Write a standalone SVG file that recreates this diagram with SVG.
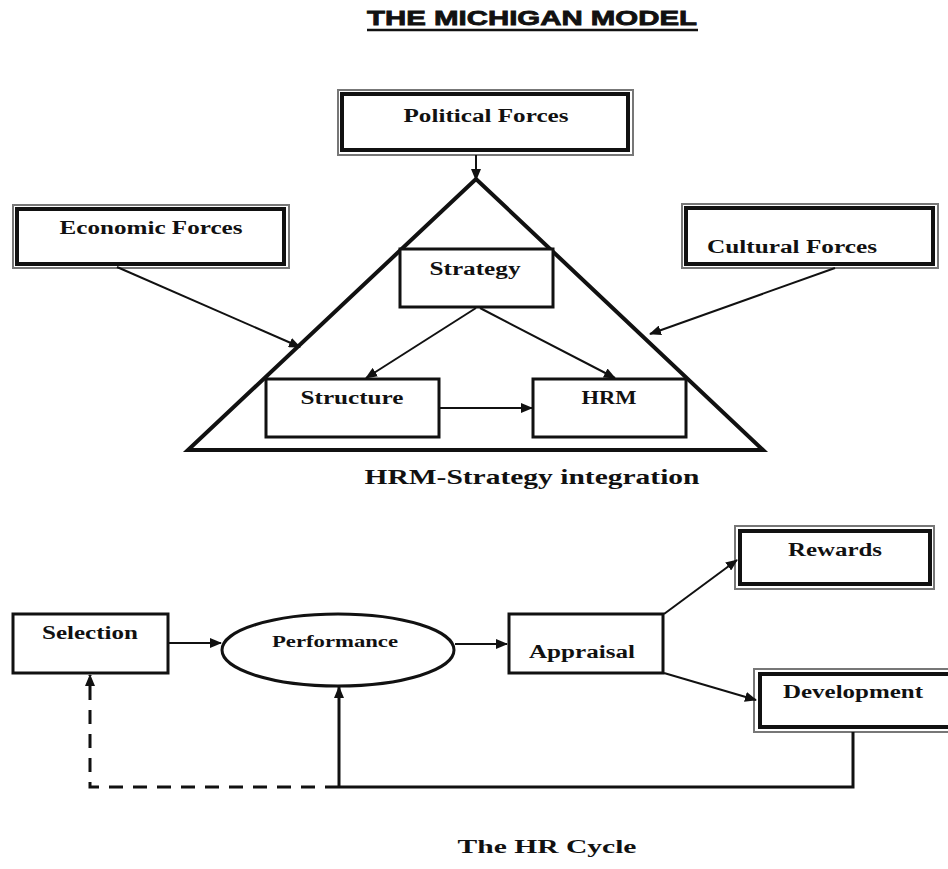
<svg xmlns="http://www.w3.org/2000/svg" width="948" height="869" viewBox="0 0 948 869">
<style>
  .t{font-family:"Liberation Serif","Times New Roman",serif;font-weight:bold;fill:#111;}
  .box{fill:#fff;stroke:#111;stroke-width:3;}
  .outer{fill:#fff;stroke:#777;stroke-width:2;}
  .inner{fill:#fff;stroke:#111;stroke-width:4;}
  .ln{fill:none;stroke:#111;stroke-width:2;}
  .thick{fill:none;stroke:#111;stroke-width:3;}
</style>
<defs>
  <marker id="ah" markerUnits="userSpaceOnUse" markerWidth="12" markerHeight="10" refX="11" refY="5" orient="auto">
    <path d="M0,0 L12,5 L0,10 Z" fill="#111"/>
  </marker>
</defs>
<rect width="948" height="869" fill="#fff"/>

<g id="title">
  <text x="532" y="25" text-anchor="middle" font-family="Liberation Sans, Arial, sans-serif" font-weight="bold" font-size="21" fill="#111" stroke="#111" stroke-width="0.8" textLength="330" lengthAdjust="spacingAndGlyphs">THE MICHIGAN MODEL</text>
  <line x1="367" y1="30" x2="698" y2="30" stroke="#111" stroke-width="2.5"/>
</g>

<g id="triangle">
  <path d="M476,179 L188,450 L763,450 Z" fill="none" stroke="#111" stroke-width="4" stroke-linejoin="miter"/>
</g>

<g id="political">
  <rect class="outer" x="338" y="90" width="295" height="65"/>
  <rect class="inner" x="342" y="94" width="286" height="56"/>
  <text class="t" x="486" y="122" font-size="18" text-anchor="middle" textLength="165" lengthAdjust="spacingAndGlyphs">Political Forces</text>
</g>

<g id="economic">
  <rect class="outer" x="13" y="205" width="276" height="63"/>
  <rect class="inner" x="17" y="209" width="267" height="55"/>
  <text class="t" x="151" y="234" font-size="18" text-anchor="middle" textLength="183" lengthAdjust="spacingAndGlyphs">Economic Forces</text>
</g>

<g id="cultural">
  <rect class="outer" x="682" y="204" width="256" height="64"/>
  <rect class="inner" x="686" y="208" width="247" height="56"/>
  <text class="t" x="707" y="253" font-size="18" textLength="170" lengthAdjust="spacingAndGlyphs">Cultural Forces</text>
</g>

<g id="strategy">
  <rect class="box" x="400" y="249" width="153" height="58"/>
  <text class="t" x="475" y="275" font-size="18" text-anchor="middle" textLength="91" lengthAdjust="spacingAndGlyphs">Strategy</text>
</g>

<g id="structure">
  <rect class="box" x="266" y="379" width="173" height="58"/>
  <text class="t" x="352" y="404" font-size="18" text-anchor="middle" textLength="103" lengthAdjust="spacingAndGlyphs">Structure</text>
</g>

<g id="hrm">
  <rect class="box" x="533" y="379" width="153" height="58"/>
  <text class="t" x="609" y="404" font-size="18" text-anchor="middle" textLength="55" lengthAdjust="spacingAndGlyphs">HRM</text>
</g>

<g id="caption1">
  <text class="t" x="532" y="484" font-size="20" text-anchor="middle" textLength="335" lengthAdjust="spacingAndGlyphs">HRM-Strategy integration</text>
</g>

<g id="selection">
  <rect class="box" x="13" y="614" width="155" height="59"/>
  <text class="t" x="90" y="639" font-size="18" text-anchor="middle" textLength="96" lengthAdjust="spacingAndGlyphs">Selection</text>
</g>

<g id="performance">
  <ellipse cx="338" cy="650" rx="116" ry="36" fill="#fff" stroke="#111" stroke-width="3"/>
  <text class="t" x="335" y="647" font-size="16" text-anchor="middle" textLength="126" lengthAdjust="spacingAndGlyphs">Performance</text>
</g>

<g id="appraisal">
  <rect class="box" x="509" y="614" width="154" height="59"/>
  <text class="t" x="529" y="658" font-size="18" textLength="106" lengthAdjust="spacingAndGlyphs">Appraisal</text>
</g>

<g id="rewards">
  <rect class="outer" x="735" y="526" width="199" height="63"/>
  <rect class="inner" x="740" y="531" width="190" height="53"/>
  <text class="t" x="835" y="556" font-size="18" text-anchor="middle" textLength="94" lengthAdjust="spacingAndGlyphs">Rewards</text>
</g>

<g id="development">
  <rect class="outer" x="754" y="669" width="196" height="63"/>
  <rect class="inner" x="760" y="674" width="190" height="53"/>
  <text class="t" x="853" y="698" font-size="18" text-anchor="middle" textLength="140" lengthAdjust="spacingAndGlyphs">Development</text>
</g>

<g id="caption2">
  <text class="t" x="547" y="853" font-size="19" text-anchor="middle" textLength="179" lengthAdjust="spacingAndGlyphs">The HR Cycle</text>
</g>

<g id="connectors">
  <line class="ln" x1="476" y1="155" x2="476" y2="180" marker-end="url(#ah)"/>
  <line class="ln" x1="117" y1="267" x2="300" y2="347" marker-end="url(#ah)"/>
  <line class="ln" x1="835" y1="268" x2="650" y2="334" marker-end="url(#ah)"/>
  <line class="ln" x1="476" y1="308" x2="366" y2="378" marker-end="url(#ah)"/>
  <line class="ln" x1="480" y1="308" x2="615" y2="378" marker-end="url(#ah)"/>
  <line class="ln" x1="439" y1="408" x2="532" y2="408" marker-end="url(#ah)"/>
  <line class="ln" x1="168" y1="643" x2="221" y2="643" marker-end="url(#ah)"/>
  <line class="ln" x1="455" y1="644" x2="507" y2="644" marker-end="url(#ah)"/>
  <line class="ln" x1="664" y1="614" x2="737" y2="560" marker-end="url(#ah)"/>
  <line class="ln" x1="664" y1="673" x2="756" y2="700" marker-end="url(#ah)"/>
  <polyline class="thick" points="853,732 853,787 339,787"/>
  <line class="thick" x1="339" y1="787" x2="339" y2="687" marker-end="url(#ah)"/>
  <polyline class="thick" points="339,787 90,787 90,675" stroke-dasharray="14,10" marker-end="url(#ah)"/>
</g>
</svg>
